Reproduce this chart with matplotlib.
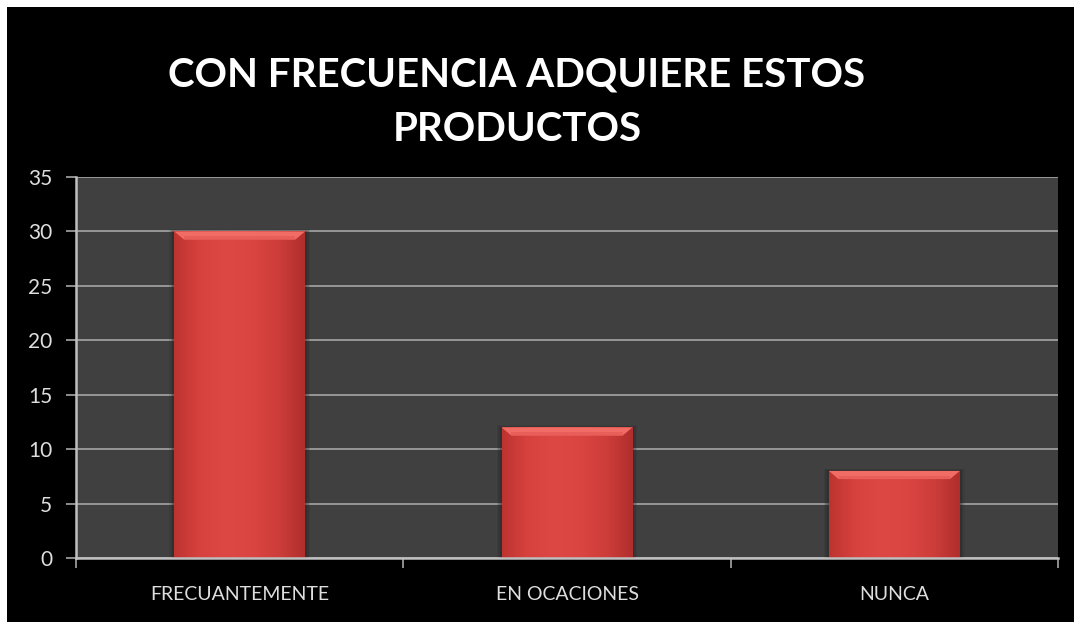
import numpy as np
import matplotlib.pyplot as plt
from matplotlib.patches import Rectangle
from matplotlib.colors import LinearSegmentedColormap

categorias = ['FRECUANTEMENTE', 'EN OCACIONES', 'NUNCA']
valores = [30, 12, 8]
ticks_y = [0, 5, 10, 15, 20, 25, 30, 35]
titulo = 'CON FRECUENCIA ADQUIERE ESTOS\nPRODUCTOS'

fondo_graf = '#404040'
gris_texto = '#dedede'
gris_linea = '#a6a6a6'
ancho_barra = 0.4

plt.rcParams['font.family'] = ['Lato', 'DejaVu Sans']

fig = plt.figure(figsize=(10.74, 6.22), dpi=100, facecolor='white')
# fondo negro con un pequeño margen blanco arriba y a la izquierda
fondo = Rectangle((7 / 1074, 0), 1, 1 - 7 / 622, transform=fig.transFigure,
                  facecolor='black', edgecolor='none', zorder=-10)
fig.patches.append(fondo)

ax = fig.add_axes([76 / 1074, 1 - 558 / 622, (1058 - 76) / 1074, (558 - 177) / 622])
ax.set_facecolor(fondo_graf)

x = np.arange(len(categorias))

# degradado horizontal de las barras
cmap_barra = LinearSegmentedColormap.from_list(
    'barra', ['#bd3330', '#d8423e', '#de4844', '#da4541', '#cd3d3a', '#b02e2c'])
grad = np.linspace(0, 1, 256).reshape(1, -1)

barras = ax.bar(x, valores, width=ancho_barra, color='#d8433f', zorder=3,
                edgecolor='none')
bisel = 0.75
for b, v in zip(barras, valores):
    x0 = b.get_x()
    x1 = x0 + b.get_width()
    # sombra suave alrededor de la barra
    for k, a in zip([0.05, 0.035, 0.02], [0.12, 0.18, 0.25]):
        ax.add_patch(Rectangle((x0 - k * 0.3, 0), (x1 - x0) + 2 * k * 0.3, v + k * 4,
                               facecolor='#202020', alpha=a, edgecolor='none', zorder=2))
    im = ax.imshow(grad, extent=(x0, x1, 0, v), aspect='auto', cmap=cmap_barra,
                   zorder=3, interpolation='bicubic')
    im.set_clip_path(b)
    # bisel superior más claro
    ax.fill([x0, x1, x1 - 0.03, x0 + 0.03], [v, v, v - bisel, v - bisel],
            color='#f06c64', zorder=4, lw=0)
    ax.fill([x0 + 0.03, x1 - 0.03, x1 - 0.03, x0 + 0.03],
            [v - bisel, v - bisel, v - bisel * 0.6, v - bisel * 0.6],
            color='#e35651', zorder=4, lw=0, alpha=0.6)

ax.set_xlim(-0.5, len(categorias) - 0.5)
ax.set_ylim(0, 35)
ax.set_yticks(ticks_y)
ax.yaxis.grid(True, color=gris_linea, linewidth=1.2, zorder=1)
ax.set_axisbelow(True)
ax.tick_params(axis='y', colors=gris_linea, length=7, width=1.2, pad=10,
               labelsize=15, labelcolor=gris_texto)

ax.set_xticks(x)
ax.set_xticklabels(categorias)
ax.tick_params(axis='x', which='major', length=0, pad=20, labelsize=14,
               labelcolor=gris_texto)
ax.set_xticks(np.arange(-0.5, len(categorias)), minor=True)
ax.tick_params(axis='x', which='minor', length=7, width=1.2, colors=gris_linea)

for lado in ['top', 'right']:
    ax.spines[lado].set_visible(False)
for lado in ['left', 'bottom']:
    ax.spines[lado].set_color('#bfbfbf')
    ax.spines[lado].set_linewidth(1.8)
    ax.spines[lado].set_zorder(5)

fig.text(517 / 1074, 1 - 102 / 622, titulo, ha='center', va='center', color='white',
         fontsize=29, fontweight='bold', linespacing=1.6)

fig.savefig('out.png', dpi=100, facecolor=fig.get_facecolor())
